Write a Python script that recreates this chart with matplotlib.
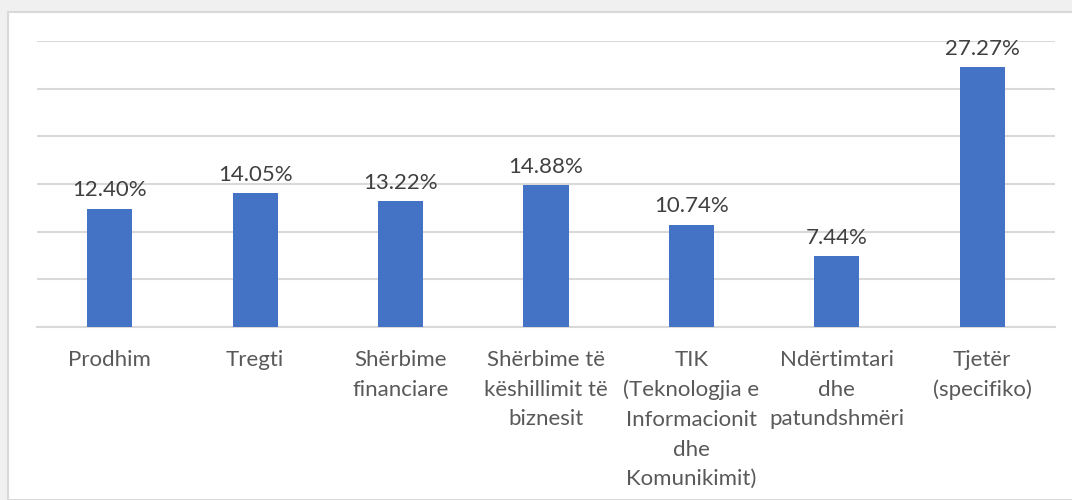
import matplotlib.pyplot as plt
from matplotlib.patches import Rectangle

categories = [
    "Prodhim",
    "Tregti",
    "Shërbime\nfinanciare",
    "Shërbime të\nkëshillimit të\nbiznesit",
    "TIK\n(Teknologjia e\nInformacionit\ndhe\nKomunikimit)",
    "Ndërtimtari\ndhe\npatundshmëri",
    "Tjetër\n(specifiko)",
]
values = [12.40, 14.05, 13.22, 14.88, 10.74, 7.44, 27.27]

W, H = 1072, 500
fig = plt.figure(figsize=(W / 100, H / 100), dpi=100, facecolor="#f0f0f0")

# white chart card with thin grey border
card = Rectangle((8 / W, 0), 1.2, (H - 12) / H, transform=fig.transFigure,
                 facecolor="white", edgecolor="#d9d9d9", linewidth=1.5,
                 zorder=-10)
fig.patches.append(card)

ax = fig.add_axes([37 / W, (H - 327) / H, (1055 - 37) / W, (327 - 41) / H])
ax.set_facecolor("none")

x = range(len(values))
bars = ax.bar(x, values, width=0.31, color="#4472c4", zorder=3)

ax.set_xlim(-0.5, len(values) - 0.5)
ax.set_ylim(0, 30)
ax.set_yticks(range(0, 31, 5))
ax.yaxis.grid(True, color="#d9d9d9", linewidth=1.5, zorder=0)
ax.tick_params(axis="y", left=False, labelleft=False)
ax.tick_params(axis="x", bottom=False, pad=13)
for s in ["top", "right", "left"]:
    ax.spines[s].set_visible(False)
ax.spines["bottom"].set_color("#d9d9d9")
ax.spines["bottom"].set_linewidth(1.5)

ax.set_xticks(list(x))
ax.set_xticklabels(categories, fontsize=16, color="#595959",
                   family="Lato", linespacing=1.6, va="top")

for b, v in zip(bars, values):
    ax.annotate(f"{v:.2f}%", (b.get_x() + b.get_width() / 2, v),
                xytext=(0, 6), textcoords="offset points",
                ha="center", va="bottom", fontsize=16,
                color="#404040", family="Lato")

fig.savefig("out.png", dpi=100, facecolor=fig.get_facecolor())
